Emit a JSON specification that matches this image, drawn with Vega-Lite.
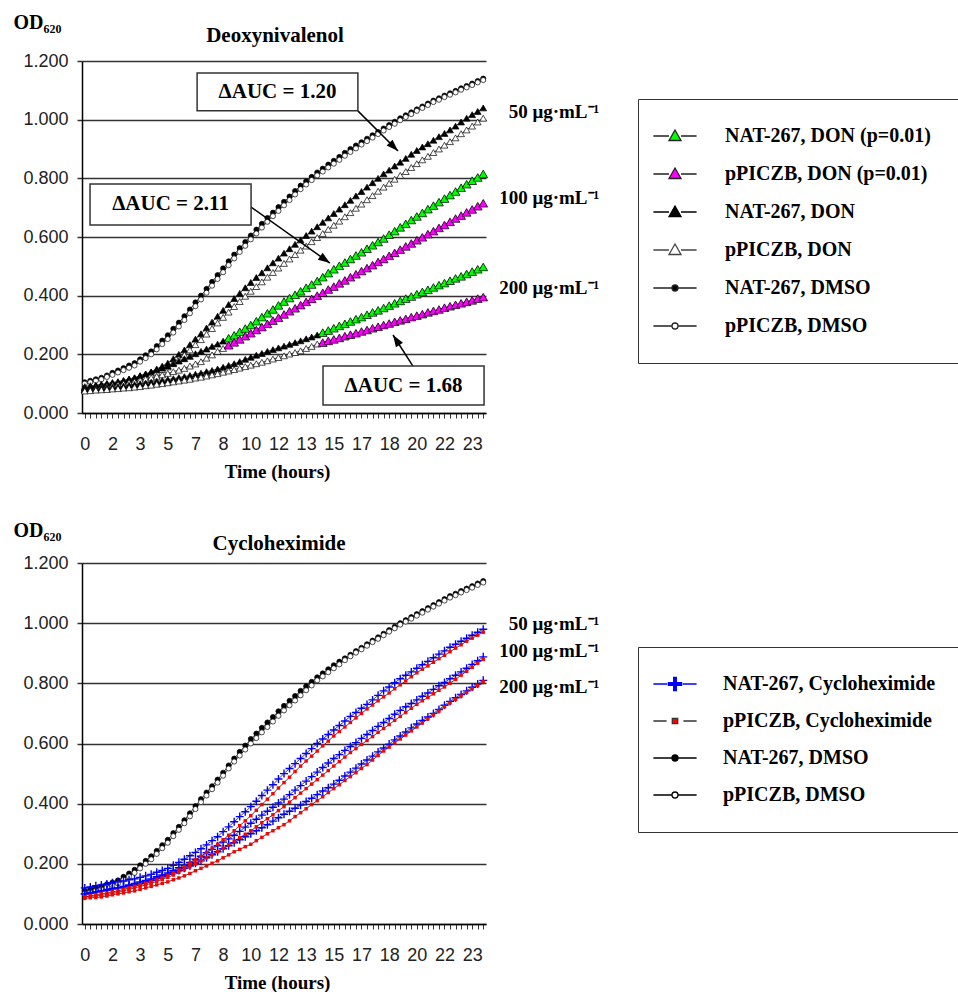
{
"$schema":"https://vega.github.io/schema/vega-lite/v6.json",
"background":"white",
"padding":{"left":13,"top":12,"right":0,"bottom":0},
"spacing":39,
"config":{"view":{"stroke":null},"font":"Liberation Sans",
"axisX":{"labelFont":"Liberation Sans","labelFontSize":18,"labelColor":"#222","labelPadding":17,"labelFlush":false,"labelOverlap":false,"tickSize":5,"tickColor":"#333","tickWidth":1,"domainColor":"#000","domainWidth":1.5,"grid":false,"titleFont":"Liberation Serif","titleFontSize":19,"titleFontWeight":"bold","titleColor":"#000","titlePadding":9},
"axisY":{"labelFont":"Liberation Sans","labelFontSize":18,"labelColor":"#222","labelPadding":9,"labelFlush":false,"tickSize":5,"tickColor":"#333","tickWidth":1.5,"domainColor":"#000","domainWidth":1.5,"grid":true,"gridColor":"#333","gridWidth":1.5,"titleFont":"Liberation Serif","titleFontSize":20,"titleFontWeight":"bold","titleColor":"#000"}},
"resolve":{"scale":{"x":"independent","y":"independent","shape":"independent","fill":"independent","stroke":"independent"}},
"datasets":{
"don":[
{"t":0,"nD":0.105,"pD":0.100,"n50":0.090,"p50":0.085,"n100":0.085,"p100":0.080,"n200":0.080,"p200":0.075},
{"t":20,"nD":0.110,"pD":0.105,"n50":0.093,"p50":0.087,"n100":0.088,"p100":0.083,"n200":0.082,"p200":0.076},
{"t":40,"nD":0.115,"pD":0.110,"n50":0.095,"p50":0.090,"n100":0.092,"p100":0.085,"n200":0.083,"p200":0.078},
{"t":60,"nD":0.120,"pD":0.115,"n50":0.098,"p50":0.092,"n100":0.095,"p100":0.088,"n200":0.085,"p200":0.079},
{"t":80,"nD":0.128,"pD":0.123,"n50":0.101,"p50":0.095,"n100":0.098,"p100":0.091,"n200":0.087,"p200":0.080},
{"t":100,"nD":0.137,"pD":0.130,"n50":0.104,"p50":0.097,"n100":0.102,"p100":0.094,"n200":0.088,"p200":0.082},
{"t":120,"nD":0.145,"pD":0.138,"n50":0.107,"p50":0.100,"n100":0.105,"p100":0.097,"n200":0.090,"p200":0.083},
{"t":140,"nD":0.153,"pD":0.146,"n50":0.111,"p50":0.104,"n100":0.110,"p100":0.100,"n200":0.092,"p200":0.085},
{"t":160,"nD":0.162,"pD":0.154,"n50":0.116,"p50":0.108,"n100":0.115,"p100":0.104,"n200":0.095,"p200":0.086},
{"t":180,"nD":0.170,"pD":0.162,"n50":0.120,"p50":0.112,"n100":0.120,"p100":0.107,"n200":0.097,"p200":0.088},
{"t":200,"nD":0.183,"pD":0.175,"n50":0.127,"p50":0.118,"n100":0.127,"p100":0.111,"n200":0.100,"p200":0.090},
{"t":220,"nD":0.197,"pD":0.187,"n50":0.133,"p50":0.124,"n100":0.133,"p100":0.116,"n200":0.102,"p200":0.093},
{"t":240,"nD":0.210,"pD":0.200,"n50":0.140,"p50":0.130,"n100":0.140,"p100":0.120,"n200":0.105,"p200":0.095},
{"t":260,"nD":0.228,"pD":0.217,"n50":0.150,"p50":0.139,"n100":0.147,"p100":0.125,"n200":0.108,"p200":0.098},
{"t":280,"nD":0.247,"pD":0.235,"n50":0.160,"p50":0.148,"n100":0.153,"p100":0.130,"n200":0.111,"p200":0.100},
{"t":300,"nD":0.265,"pD":0.252,"n50":0.170,"p50":0.157,"n100":0.160,"p100":0.135,"n200":0.114,"p200":0.103},
{"t":320,"nD":0.287,"pD":0.274,"n50":0.185,"p50":0.171,"n100":0.168,"p100":0.141,"n200":0.117,"p200":0.106},
{"t":340,"nD":0.308,"pD":0.295,"n50":0.200,"p50":0.184,"n100":0.177,"p100":0.146,"n200":0.121,"p200":0.109},
{"t":360,"nD":0.330,"pD":0.317,"n50":0.215,"p50":0.198,"n100":0.185,"p100":0.152,"n200":0.124,"p200":0.112},
{"t":380,"nD":0.353,"pD":0.340,"n50":0.233,"p50":0.215,"n100":0.193,"p100":0.160,"n200":0.128,"p200":0.115},
{"t":400,"nD":0.377,"pD":0.364,"n50":0.252,"p50":0.233,"n100":0.202,"p100":0.167,"n200":0.132,"p200":0.119},
{"t":420,"nD":0.400,"pD":0.387,"n50":0.270,"p50":0.250,"n100":0.210,"p100":0.175,"n200":0.136,"p200":0.122},
{"t":440,"nD":0.423,"pD":0.410,"n50":0.290,"p50":0.269,"n100":0.218,"p100":0.187,"n200":0.141,"p200":0.126},
{"t":460,"nD":0.447,"pD":0.434,"n50":0.310,"p50":0.288,"n100":0.227,"p100":0.198,"n200":0.145,"p200":0.130},
{"t":480,"nD":0.470,"pD":0.457,"n50":0.330,"p50":0.307,"n100":0.235,"p100":0.210,"n200":0.150,"p200":0.134},
{"t":500,"nD":0.493,"pD":0.480,"n50":0.350,"p50":0.326,"n100":0.245,"p100":0.220,"n200":0.156,"p200":0.139},
{"t":520,"nD":0.517,"pD":0.504,"n50":0.370,"p50":0.344,"n100":0.255,"p100":0.231,"n200":0.162,"p200":0.143},
{"t":540,"nD":0.540,"pD":0.527,"n50":0.390,"p50":0.363,"n100":0.265,"p100":0.241,"n200":0.168,"p200":0.148},
{"t":560,"nD":0.562,"pD":0.549,"n50":0.408,"p50":0.380,"n100":0.277,"p100":0.251,"n200":0.175,"p200":0.153},
{"t":580,"nD":0.583,"pD":0.570,"n50":0.427,"p50":0.398,"n100":0.288,"p100":0.262,"n200":0.183,"p200":0.158},
{"t":600,"nD":0.605,"pD":0.592,"n50":0.445,"p50":0.415,"n100":0.300,"p100":0.272,"n200":0.190,"p200":0.163},
{"t":620,"nD":0.625,"pD":0.612,"n50":0.462,"p50":0.431,"n100":0.313,"p100":0.283,"n200":0.197,"p200":0.168},
{"t":640,"nD":0.645,"pD":0.632,"n50":0.478,"p50":0.447,"n100":0.327,"p100":0.293,"n200":0.203,"p200":0.173},
{"t":660,"nD":0.665,"pD":0.652,"n50":0.495,"p50":0.463,"n100":0.340,"p100":0.304,"n200":0.210,"p200":0.178},
{"t":680,"nD":0.683,"pD":0.671,"n50":0.512,"p50":0.479,"n100":0.353,"p100":0.315,"n200":0.216,"p200":0.184},
{"t":700,"nD":0.702,"pD":0.689,"n50":0.528,"p50":0.494,"n100":0.367,"p100":0.325,"n200":0.222,"p200":0.189},
{"t":720,"nD":0.720,"pD":0.708,"n50":0.545,"p50":0.510,"n100":0.380,"p100":0.336,"n200":0.228,"p200":0.195},
{"t":740,"nD":0.738,"pD":0.726,"n50":0.560,"p50":0.525,"n100":0.392,"p100":0.347,"n200":0.234,"p200":0.201},
{"t":760,"nD":0.757,"pD":0.745,"n50":0.575,"p50":0.540,"n100":0.403,"p100":0.357,"n200":0.240,"p200":0.206},
{"t":780,"nD":0.775,"pD":0.763,"n50":0.590,"p50":0.555,"n100":0.415,"p100":0.368,"n200":0.246,"p200":0.212},
{"t":800,"nD":0.790,"pD":0.779,"n50":0.605,"p50":0.569,"n100":0.427,"p100":0.379,"n200":0.253,"p200":0.220},
{"t":820,"nD":0.805,"pD":0.794,"n50":0.620,"p50":0.584,"n100":0.438,"p100":0.389,"n200":0.259,"p200":0.227},
{"t":840,"nD":0.820,"pD":0.810,"n50":0.635,"p50":0.598,"n100":0.450,"p100":0.400,"n200":0.266,"p200":0.235},
{"t":860,"nD":0.833,"pD":0.823,"n50":0.650,"p50":0.612,"n100":0.463,"p100":0.410,"n200":0.274,"p200":0.240},
{"t":880,"nD":0.847,"pD":0.837,"n50":0.665,"p50":0.626,"n100":0.477,"p100":0.421,"n200":0.281,"p200":0.246},
{"t":900,"nD":0.860,"pD":0.850,"n50":0.680,"p50":0.640,"n100":0.490,"p100":0.431,"n200":0.289,"p200":0.251},
{"t":920,"nD":0.873,"pD":0.863,"n50":0.695,"p50":0.654,"n100":0.502,"p100":0.442,"n200":0.297,"p200":0.256},
{"t":940,"nD":0.887,"pD":0.877,"n50":0.710,"p50":0.669,"n100":0.513,"p100":0.452,"n200":0.304,"p200":0.262},
{"t":960,"nD":0.900,"pD":0.890,"n50":0.725,"p50":0.683,"n100":0.525,"p100":0.463,"n200":0.312,"p200":0.267},
{"t":980,"nD":0.912,"pD":0.902,"n50":0.740,"p50":0.698,"n100":0.537,"p100":0.473,"n200":0.320,"p200":0.272},
{"t":1000,"nD":0.923,"pD":0.915,"n50":0.755,"p50":0.712,"n100":0.548,"p100":0.484,"n200":0.327,"p200":0.278},
{"t":1020,"nD":0.935,"pD":0.927,"n50":0.770,"p50":0.727,"n100":0.560,"p100":0.494,"n200":0.335,"p200":0.283},
{"t":1040,"nD":0.947,"pD":0.939,"n50":0.785,"p50":0.741,"n100":0.572,"p100":0.504,"n200":0.343,"p200":0.289},
{"t":1060,"nD":0.958,"pD":0.951,"n50":0.800,"p50":0.756,"n100":0.583,"p100":0.515,"n200":0.350,"p200":0.294},
{"t":1080,"nD":0.970,"pD":0.963,"n50":0.815,"p50":0.770,"n100":0.595,"p100":0.525,"n200":0.358,"p200":0.300},
{"t":1100,"nD":0.982,"pD":0.975,"n50":0.828,"p50":0.783,"n100":0.608,"p100":0.536,"n200":0.366,"p200":0.305},
{"t":1120,"nD":0.993,"pD":0.986,"n50":0.842,"p50":0.797,"n100":0.620,"p100":0.546,"n200":0.374,"p200":0.311},
{"t":1140,"nD":1.005,"pD":0.998,"n50":0.855,"p50":0.810,"n100":0.633,"p100":0.557,"n200":0.382,"p200":0.316},
{"t":1160,"nD":1.015,"pD":1.009,"n50":0.868,"p50":0.823,"n100":0.645,"p100":0.568,"n200":0.390,"p200":0.321},
{"t":1180,"nD":1.025,"pD":1.019,"n50":0.882,"p50":0.837,"n100":0.658,"p100":0.578,"n200":0.397,"p200":0.327},
{"t":1200,"nD":1.035,"pD":1.030,"n50":0.895,"p50":0.850,"n100":0.670,"p100":0.589,"n200":0.405,"p200":0.332},
{"t":1220,"nD":1.045,"pD":1.040,"n50":0.907,"p50":0.863,"n100":0.682,"p100":0.599,"n200":0.413,"p200":0.337},
{"t":1240,"nD":1.055,"pD":1.050,"n50":0.918,"p50":0.875,"n100":0.695,"p100":0.610,"n200":0.420,"p200":0.343},
{"t":1260,"nD":1.065,"pD":1.060,"n50":0.930,"p50":0.888,"n100":0.707,"p100":0.620,"n200":0.428,"p200":0.348},
{"t":1280,"nD":1.073,"pD":1.068,"n50":0.942,"p50":0.900,"n100":0.719,"p100":0.631,"n200":0.436,"p200":0.353},
{"t":1300,"nD":1.082,"pD":1.077,"n50":0.953,"p50":0.913,"n100":0.731,"p100":0.641,"n200":0.443,"p200":0.359},
{"t":1320,"nD":1.090,"pD":1.085,"n50":0.965,"p50":0.925,"n100":0.743,"p100":0.652,"n200":0.451,"p200":0.364},
{"t":1340,"nD":1.098,"pD":1.093,"n50":0.978,"p50":0.938,"n100":0.755,"p100":0.663,"n200":0.459,"p200":0.369},
{"t":1360,"nD":1.107,"pD":1.102,"n50":0.992,"p50":0.952,"n100":0.768,"p100":0.673,"n200":0.466,"p200":0.374},
{"t":1380,"nD":1.115,"pD":1.110,"n50":1.005,"p50":0.965,"n100":0.780,"p100":0.684,"n200":0.474,"p200":0.379},
{"t":1400,"nD":1.123,"pD":1.118,"n50":1.017,"p50":0.978,"n100":0.792,"p100":0.694,"n200":0.482,"p200":0.384},
{"t":1420,"nD":1.132,"pD":1.127,"n50":1.028,"p50":0.992,"n100":0.803,"p100":0.705,"n200":0.490,"p200":0.390},
{"t":1440,"nD":1.140,"pD":1.135,"n50":1.040,"p50":1.005,"n100":0.815,"p100":0.715,"n200":0.498,"p200":0.395}
],
"chx":[
{"t":0,"nD":0.110,"pD":0.100,"n50":0.120,"p50":0.090,"n100":0.100,"p100":0.090,"n200":0.100,"p200":0.085},
{"t":20,"nD":0.115,"pD":0.105,"n50":0.123,"p50":0.093,"n100":0.103,"p100":0.092,"n200":0.103,"p200":0.087},
{"t":40,"nD":0.120,"pD":0.110,"n50":0.127,"p50":0.097,"n100":0.107,"p100":0.093,"n200":0.107,"p200":0.088},
{"t":60,"nD":0.125,"pD":0.115,"n50":0.130,"p50":0.100,"n100":0.110,"p100":0.095,"n200":0.110,"p200":0.090},
{"t":80,"nD":0.132,"pD":0.122,"n50":0.133,"p50":0.103,"n100":0.113,"p100":0.098,"n200":0.113,"p200":0.093},
{"t":100,"nD":0.138,"pD":0.128,"n50":0.137,"p50":0.107,"n100":0.117,"p100":0.102,"n200":0.117,"p200":0.097},
{"t":120,"nD":0.145,"pD":0.135,"n50":0.140,"p50":0.110,"n100":0.120,"p100":0.105,"n200":0.120,"p200":0.100},
{"t":140,"nD":0.157,"pD":0.147,"n50":0.143,"p50":0.115,"n100":0.125,"p100":0.110,"n200":0.123,"p200":0.103},
{"t":160,"nD":0.168,"pD":0.158,"n50":0.147,"p50":0.120,"n100":0.130,"p100":0.115,"n200":0.127,"p200":0.107},
{"t":180,"nD":0.180,"pD":0.170,"n50":0.150,"p50":0.125,"n100":0.135,"p100":0.120,"n200":0.130,"p200":0.110},
{"t":200,"nD":0.195,"pD":0.185,"n50":0.155,"p50":0.130,"n100":0.140,"p100":0.125,"n200":0.135,"p200":0.115},
{"t":220,"nD":0.210,"pD":0.200,"n50":0.160,"p50":0.135,"n100":0.145,"p100":0.130,"n200":0.140,"p200":0.120},
{"t":240,"nD":0.225,"pD":0.215,"n50":0.165,"p50":0.140,"n100":0.150,"p100":0.135,"n200":0.145,"p200":0.125},
{"t":260,"nD":0.243,"pD":0.233,"n50":0.172,"p50":0.147,"n100":0.157,"p100":0.142,"n200":0.152,"p200":0.130},
{"t":280,"nD":0.262,"pD":0.252,"n50":0.178,"p50":0.153,"n100":0.163,"p100":0.148,"n200":0.158,"p200":0.135},
{"t":300,"nD":0.280,"pD":0.270,"n50":0.185,"p50":0.160,"n100":0.170,"p100":0.155,"n200":0.165,"p200":0.140},
{"t":320,"nD":0.302,"pD":0.292,"n50":0.195,"p50":0.170,"n100":0.178,"p100":0.163,"n200":0.172,"p200":0.147},
{"t":340,"nD":0.323,"pD":0.313,"n50":0.205,"p50":0.180,"n100":0.187,"p100":0.172,"n200":0.178,"p200":0.153},
{"t":360,"nD":0.345,"pD":0.335,"n50":0.215,"p50":0.190,"n100":0.195,"p100":0.180,"n200":0.185,"p200":0.160},
{"t":380,"nD":0.368,"pD":0.358,"n50":0.227,"p50":0.202,"n100":0.205,"p100":0.190,"n200":0.193,"p200":0.168},
{"t":400,"nD":0.392,"pD":0.382,"n50":0.238,"p50":0.213,"n100":0.215,"p100":0.200,"n200":0.202,"p200":0.177},
{"t":420,"nD":0.415,"pD":0.405,"n50":0.250,"p50":0.225,"n100":0.225,"p100":0.210,"n200":0.210,"p200":0.185},
{"t":440,"nD":0.437,"pD":0.427,"n50":0.263,"p50":0.238,"n100":0.237,"p100":0.220,"n200":0.220,"p200":0.193},
{"t":460,"nD":0.458,"pD":0.448,"n50":0.277,"p50":0.252,"n100":0.248,"p100":0.230,"n200":0.230,"p200":0.202},
{"t":480,"nD":0.480,"pD":0.470,"n50":0.290,"p50":0.265,"n100":0.260,"p100":0.240,"n200":0.240,"p200":0.210},
{"t":500,"nD":0.503,"pD":0.493,"n50":0.307,"p50":0.280,"n100":0.272,"p100":0.252,"n200":0.250,"p200":0.220},
{"t":520,"nD":0.527,"pD":0.517,"n50":0.323,"p50":0.295,"n100":0.283,"p100":0.263,"n200":0.260,"p200":0.230},
{"t":540,"nD":0.550,"pD":0.540,"n50":0.340,"p50":0.310,"n100":0.295,"p100":0.275,"n200":0.270,"p200":0.240},
{"t":560,"nD":0.572,"pD":0.560,"n50":0.357,"p50":0.327,"n100":0.308,"p100":0.287,"n200":0.280,"p200":0.248},
{"t":580,"nD":0.593,"pD":0.580,"n50":0.373,"p50":0.343,"n100":0.322,"p100":0.298,"n200":0.290,"p200":0.257},
{"t":600,"nD":0.615,"pD":0.600,"n50":0.390,"p50":0.360,"n100":0.335,"p100":0.310,"n200":0.300,"p200":0.265},
{"t":620,"nD":0.633,"pD":0.618,"n50":0.408,"p50":0.378,"n100":0.348,"p100":0.323,"n200":0.310,"p200":0.277},
{"t":640,"nD":0.652,"pD":0.637,"n50":0.427,"p50":0.397,"n100":0.362,"p100":0.337,"n200":0.320,"p200":0.288},
{"t":660,"nD":0.670,"pD":0.655,"n50":0.445,"p50":0.415,"n100":0.375,"p100":0.350,"n200":0.330,"p200":0.300},
{"t":680,"nD":0.688,"pD":0.673,"n50":0.463,"p50":0.433,"n100":0.388,"p100":0.363,"n200":0.342,"p200":0.310},
{"t":700,"nD":0.707,"pD":0.692,"n50":0.482,"p50":0.452,"n100":0.402,"p100":0.377,"n200":0.353,"p200":0.320},
{"t":720,"nD":0.725,"pD":0.710,"n50":0.500,"p50":0.470,"n100":0.415,"p100":0.390,"n200":0.365,"p200":0.330},
{"t":740,"nD":0.742,"pD":0.727,"n50":0.517,"p50":0.488,"n100":0.430,"p100":0.405,"n200":0.375,"p200":0.343},
{"t":760,"nD":0.758,"pD":0.743,"n50":0.533,"p50":0.507,"n100":0.445,"p100":0.420,"n200":0.385,"p200":0.357},
{"t":780,"nD":0.775,"pD":0.760,"n50":0.550,"p50":0.525,"n100":0.460,"p100":0.435,"n200":0.395,"p200":0.370},
{"t":800,"nD":0.790,"pD":0.777,"n50":0.567,"p50":0.542,"n100":0.475,"p100":0.450,"n200":0.407,"p200":0.383},
{"t":820,"nD":0.805,"pD":0.793,"n50":0.583,"p50":0.558,"n100":0.490,"p100":0.465,"n200":0.418,"p200":0.397},
{"t":840,"nD":0.820,"pD":0.810,"n50":0.600,"p50":0.575,"n100":0.505,"p100":0.480,"n200":0.430,"p200":0.410},
{"t":860,"nD":0.833,"pD":0.823,"n50":0.615,"p50":0.592,"n100":0.520,"p100":0.495,"n200":0.442,"p200":0.423},
{"t":880,"nD":0.847,"pD":0.837,"n50":0.630,"p50":0.608,"n100":0.535,"p100":0.510,"n200":0.453,"p200":0.437},
{"t":900,"nD":0.860,"pD":0.850,"n50":0.645,"p50":0.625,"n100":0.550,"p100":0.525,"n200":0.465,"p200":0.450},
{"t":920,"nD":0.872,"pD":0.863,"n50":0.660,"p50":0.640,"n100":0.563,"p100":0.540,"n200":0.478,"p200":0.463},
{"t":940,"nD":0.883,"pD":0.877,"n50":0.675,"p50":0.655,"n100":0.577,"p100":0.555,"n200":0.492,"p200":0.477},
{"t":960,"nD":0.895,"pD":0.890,"n50":0.690,"p50":0.670,"n100":0.590,"p100":0.570,"n200":0.505,"p200":0.490},
{"t":980,"nD":0.907,"pD":0.902,"n50":0.703,"p50":0.685,"n100":0.603,"p100":0.583,"n200":0.518,"p200":0.503},
{"t":1000,"nD":0.918,"pD":0.913,"n50":0.717,"p50":0.700,"n100":0.617,"p100":0.597,"n200":0.532,"p200":0.517},
{"t":1020,"nD":0.930,"pD":0.925,"n50":0.730,"p50":0.715,"n100":0.630,"p100":0.610,"n200":0.545,"p200":0.530},
{"t":1040,"nD":0.942,"pD":0.937,"n50":0.745,"p50":0.728,"n100":0.643,"p100":0.623,"n200":0.558,"p200":0.545},
{"t":1060,"nD":0.953,"pD":0.948,"n50":0.760,"p50":0.742,"n100":0.657,"p100":0.637,"n200":0.572,"p200":0.560},
{"t":1080,"nD":0.965,"pD":0.960,"n50":0.775,"p50":0.755,"n100":0.670,"p100":0.650,"n200":0.585,"p200":0.575},
{"t":1100,"nD":0.977,"pD":0.972,"n50":0.788,"p50":0.768,"n100":0.683,"p100":0.663,"n200":0.598,"p200":0.588},
{"t":1120,"nD":0.988,"pD":0.983,"n50":0.802,"p50":0.782,"n100":0.697,"p100":0.677,"n200":0.612,"p200":0.602},
{"t":1140,"nD":1.000,"pD":0.995,"n50":0.815,"p50":0.795,"n100":0.710,"p100":0.690,"n200":0.625,"p200":0.615},
{"t":1160,"nD":1.010,"pD":1.005,"n50":0.827,"p50":0.808,"n100":0.722,"p100":0.703,"n200":0.638,"p200":0.628},
{"t":1180,"nD":1.020,"pD":1.015,"n50":0.838,"p50":0.822,"n100":0.733,"p100":0.717,"n200":0.652,"p200":0.642},
{"t":1200,"nD":1.030,"pD":1.025,"n50":0.850,"p50":0.835,"n100":0.745,"p100":0.730,"n200":0.665,"p200":0.655},
{"t":1220,"nD":1.040,"pD":1.035,"n50":0.862,"p50":0.847,"n100":0.757,"p100":0.742,"n200":0.677,"p200":0.668},
{"t":1240,"nD":1.050,"pD":1.045,"n50":0.873,"p50":0.858,"n100":0.768,"p100":0.753,"n200":0.688,"p200":0.682},
{"t":1260,"nD":1.060,"pD":1.055,"n50":0.885,"p50":0.870,"n100":0.780,"p100":0.765,"n200":0.700,"p200":0.695},
{"t":1280,"nD":1.070,"pD":1.065,"n50":0.897,"p50":0.882,"n100":0.792,"p100":0.777,"n200":0.713,"p200":0.708},
{"t":1300,"nD":1.080,"pD":1.075,"n50":0.908,"p50":0.893,"n100":0.803,"p100":0.788,"n200":0.727,"p200":0.722},
{"t":1320,"nD":1.090,"pD":1.085,"n50":0.920,"p50":0.905,"n100":0.815,"p100":0.800,"n200":0.740,"p200":0.735},
{"t":1340,"nD":1.098,"pD":1.093,"n50":0.930,"p50":0.917,"n100":0.827,"p100":0.813,"n200":0.752,"p200":0.747},
{"t":1360,"nD":1.107,"pD":1.102,"n50":0.940,"p50":0.928,"n100":0.838,"p100":0.827,"n200":0.763,"p200":0.758},
{"t":1380,"nD":1.115,"pD":1.110,"n50":0.950,"p50":0.940,"n100":0.850,"p100":0.840,"n200":0.775,"p200":0.770},
{"t":1400,"nD":1.123,"pD":1.118,"n50":0.960,"p50":0.950,"n100":0.863,"p100":0.853,"n200":0.787,"p200":0.782},
{"t":1420,"nD":1.132,"pD":1.127,"n50":0.970,"p50":0.960,"n100":0.875,"p100":0.867,"n200":0.798,"p200":0.793},
{"t":1440,"nD":1.140,"pD":1.135,"n50":0.980,"p50":0.970,"n100":0.888,"p100":0.880,"n200":0.810,"p200":0.805}
],
"annotBox":[
{"label":"ΔAUC = 1.20","t":406,"t2":987,"od":1.03,"od2":1.159},
{"label":"ΔAUC = 2.11","t":19,"t2":601,"od":0.641,"od2":0.781},
{"label":"ΔAUC = 1.68","t":861,"t2":1443,"od":0.027,"od2":0.160}
],
"annotArrow":[
{"t":987,"od":1.03,"t2":1132,"od2":0.893},
{"t":601,"od":0.702,"t2":886,"od2":0.511},
{"t":1186,"od":0.160,"t2":1114,"od2":0.266}
],
"concTop":[
{"t":1440,"od":1.026,"label":"50 μg·mL⁻¹"},
{"t":1440,"od":0.733,"label":"100 μg·mL⁻¹"},
{"t":1440,"od":0.426,"label":"200 μg·mL⁻¹"}
],
"concBot":[
{"t":1440,"od":0.997,"label":"50 μg·mL⁻¹"},
{"t":1440,"od":0.907,"label":"100 μg·mL⁻¹"},
{"t":1440,"od":0.788,"label":"200 μg·mL⁻¹"}
],
"legTop":[
{"entry":"NAT-267, DON (p=0.01)"},{"entry":"pPICZB, DON (p=0.01)"},{"entry":"NAT-267, DON"},{"entry":"pPICZB, DON"},{"entry":"NAT-267, DMSO"},{"entry":"pPICZB, DMSO"}
],
"legBot":[
{"entry":"NAT-267, Cycloheximide"},{"entry":"pPICZB, Cycloheximide"},{"entry":"NAT-267, DMSO"},{"entry":"pPICZB, DMSO"}
]
},
"vconcat":[
{
"width":404,"height":352,
"title":{"text":"Deoxynivalenol","frame":"group","anchor":"middle","dx":-9,"offset":-51,"baseline":"alphabetic","font":"Liberation Serif","fontSize":21,"fontWeight":"bold","color":"#000"},
"resolve":{"scale":{"shape":"independent","fill":"independent","stroke":"independent"}},
"encoding":{
"x":{"field":"t","type":"quantitative","scale":{"domain":[-10,1450],"nice":false,"zero":false},
"axis":{"values":[0,20,40,60,80,100,120,140,160,180,200,220,240,260,280,300,320,340,360,380,400,420,440,460,480,500,520,540,560,580,600,620,640,660,680,700,720,740,760,780,800,820,840,860,880,900,920,940,960,980,1000,1020,1040,1060,1080,1100,1120,1140,1160,1180,1200,1220,1240,1260,1280,1300,1320,1340,1360,1380,1400,1420,1440],
"labelExpr":"datum.value % 100 === 0 ? format(datum.value/60, '.0f') : ''","labelOverlap":false,"title":"Time (hours)","titleX":195}},
"y":{"field":"od","type":"quantitative","scale":{"domain":[0,1.2],"nice":false,"zero":false},
"axis":{"values":[0,0.2,0.4,0.6,0.8,1,1.2],"format":".3f","title":"OD₆₂₀","titleAngle":0,"titleX":-69,"titleY":-33,"titleAlign":"left","titleBaseline":"alphabetic"}}},
"layer":[
{"data":{"name":"don"},
"transform":[{"fold":["nD","pD","n50","p50","n100","p100","n200","p200"],"as":["s","od"]}],
"mark":{"type":"line","color":"#333","strokeWidth":0.9},
"encoding":{"detail":{"field":"s","type":"nominal"}}},
{"data":{"name":"don"},
"transform":[{"fold":["nD","pD","n50","p50","n100","p100","n200","p200"],"as":["s","od"]}],
"mark":{"type":"point","filled":true,"stroke":"#000","strokeWidth":0.7,"opacity":1},
"encoding":{
"shape":{"field":"s","type":"nominal","scale":{"domain":["nD","pD","n50","p50","n100","p100","n200","p200"],"range":["circle","circle","triangle-up","triangle-up","triangle-up","triangle-up","triangle-up","triangle-up"]},"legend":null},
"fill":{"field":"s","type":"nominal","scale":{"domain":["nD","pD","n50","p50","n100","p100","n200","p200"],"range":["#000","#fff","#000","#fff","#000","#fff","#000","#fff"]},"legend":null},
"size":{"condition":{"test":"datum.s=='nD'||datum.s=='pD'","value":26},"value":46}}},
{"data":{"name":"don"},
"transform":[{"fold":["nD","pD","n50","p50","n100","p100","n200","p200"],"as":["s","od"]},
{"filter":"((datum.s=='n100'||datum.s=='p100')&&datum.t>=520)||((datum.s=='n200'||datum.s=='p200')&&datum.t>=860)"}],
"mark":{"type":"point","shape":"triangle-up","filled":true,"stroke":"#000","strokeWidth":0.7,"size":78,"opacity":1},
"encoding":{
"fill":{"condition":{"test":"datum.s=='n100'||datum.s=='n200'","value":"#00ff00"},"value":"#ff00ff"}}},
{"data":{"name":"annotArrow"},
"mark":{"type":"rule","color":"#000","strokeWidth":1.5},
"encoding":{"x2":{"field":"t2"},"y2":{"field":"od2"}}},
{"data":{"name":"annotArrow"},
"transform":[
{"calculate":"(datum.t2-datum.t)*0.27671","as":"dxp"},
{"calculate":"(datum.od2-datum.od)*293.33","as":"dyp"},
{"calculate":"sqrt(datum.dxp*datum.dxp+datum.dyp*datum.dyp)","as":"len"},
{"calculate":"atan2(datum.dxp,datum.dyp)*180/PI","as":"ang"},
{"calculate":"datum.t2-(datum.t2-datum.t)*7/datum.len","as":"t"},
{"calculate":"datum.od2-(datum.od2-datum.od)*7/datum.len","as":"od"}],
"mark":{"type":"point","shape":"M0,-1L0.6,0.7L-0.6,0.7Z","filled":true,"color":"#000","size":196,"opacity":1},
"encoding":{"angle":{"field":"ang","type":"quantitative","scale":null}}},
{"data":{"name":"annotBox"},
"mark":{"type":"rect","fill":"#fff","stroke":"#333","strokeWidth":1.5},
"encoding":{"x2":{"field":"t2"},"y2":{"field":"od2"}}},
{"data":{"name":"annotBox"},
"transform":[{"calculate":"(datum.t+datum.t2)/2","as":"t"},{"calculate":"(datum.od+datum.od2)/2","as":"od"}],
"mark":{"type":"text","font":"Liberation Serif","fontSize":21,"fontWeight":"bold","color":"#000","align":"center","baseline":"middle"},
"encoding":{"text":{"field":"label"}}},
{"data":{"name":"concTop"},
"mark":{"type":"text","font":"Liberation Serif","fontSize":19,"fontWeight":"bold","color":"#000","align":"right","baseline":"middle","dx":116},
"encoding":{"text":{"field":"label"}}},
{"data":{"name":"legTop"},
"mark":{"type":"point","filled":true,"opacity":0},
"encoding":{
"shape":{"field":"entry","type":"nominal","scale":{"domain":["NAT-267, DON (p=0.01)","pPICZB, DON (p=0.01)","NAT-267, DON","pPICZB, DON","NAT-267, DMSO","pPICZB, DMSO"],
"range":["M-3.6,0H-1M1,0H3.6M0,-1L1,0.75L-1,0.75Z","M-3.6,0H-1M1,0H3.6M0,-1L1,0.75L-1,0.75Z","M-3.6,0H-1M1,0H3.6M0,-1L1,0.75L-1,0.75Z","M-3.6,0H-1M1,0H3.6M0,-1L1,0.75L-1,0.75Z","M-3.6,0H-0.5M0.5,0H3.6M0.5,0A0.5,0.5,0,1,1,-0.5,0A0.5,0.5,0,1,1,0.5,0Z","M-3.6,0H-0.5M0.5,0H3.6M0.5,0A0.5,0.5,0,1,1,-0.5,0A0.5,0.5,0,1,1,0.5,0Z"]},
"legend":{"orient":"none","legendX":556,"legendY":38,"direction":"vertical","title":null,"padding":27,"strokeColor":"#333","fillColor":"#fff","labelFont":"Liberation Serif","labelFontSize":20,"labelFontWeight":"bold","labelColor":"#000","labelOffset":40,"labelLimit":400,"rowPadding":18,"symbolSize":144,"symbolStrokeWidth":1.3,"symbolOpacity":1}},
"fill":{"field":"entry","type":"nominal","scale":{"domain":["NAT-267, DON (p=0.01)","pPICZB, DON (p=0.01)","NAT-267, DON","pPICZB, DON","NAT-267, DMSO","pPICZB, DMSO"],"range":["#00ff00","#ff00ff","#000000","#ffffff","#000000","#ffffff"]}},
"stroke":{"field":"entry","type":"nominal","scale":{"domain":["NAT-267, DON (p=0.01)","pPICZB, DON (p=0.01)","NAT-267, DON","pPICZB, DON","NAT-267, DMSO","pPICZB, DMSO"],"range":["#222222","#222222","#000000","#444444","#222222","#222222"]}}}}
]
},
{
"width":404,"height":361,
"title":{"text":"Cycloheximide","frame":"group","anchor":"middle","dx":-5,"offset":-50.5,"baseline":"alphabetic","font":"Liberation Serif","fontSize":21,"fontWeight":"bold","color":"#000"},
"resolve":{"scale":{"shape":"independent","fill":"independent","stroke":"independent"}},
"encoding":{
"x":{"field":"t","type":"quantitative","scale":{"domain":[-10,1450],"nice":false,"zero":false},
"axis":{"values":[0,20,40,60,80,100,120,140,160,180,200,220,240,260,280,300,320,340,360,380,400,420,440,460,480,500,520,540,560,580,600,620,640,660,680,700,720,740,760,780,800,820,840,860,880,900,920,940,960,980,1000,1020,1040,1060,1080,1100,1120,1140,1160,1180,1200,1220,1240,1260,1280,1300,1320,1340,1360,1380,1400,1420,1440],
"labelExpr":"datum.value % 100 === 0 ? format(datum.value/60, '.0f') : ''","labelOverlap":false,"title":"Time (hours)","titleX":195}},
"y":{"field":"od","type":"quantitative","scale":{"domain":[0,1.2],"nice":false,"zero":false},
"axis":{"values":[0,0.2,0.4,0.6,0.8,1,1.2],"format":".3f","title":"OD₆₂₀","titleAngle":0,"titleX":-69,"titleY":-27,"titleAlign":"left","titleBaseline":"alphabetic"}}},
"layer":[
{"data":{"name":"chx"},
"transform":[{"fold":["nD","pD","n50","p50","n100","p100","n200","p200"],"as":["s","od"]}],
"mark":{"type":"line","color":"#333","strokeWidth":0.9},
"encoding":{"detail":{"field":"s","type":"nominal"}}},
{"data":{"name":"chx"},
"transform":[{"fold":["nD","pD"],"as":["s","od"]}],
"mark":{"type":"point","shape":"circle","filled":true,"stroke":"#000","strokeWidth":0.7,"size":26,"opacity":1},
"encoding":{"fill":{"condition":{"test":"datum.s=='nD'","value":"#000"},"value":"#fff"}}},
{"data":{"name":"chx"},
"transform":[{"fold":["n50","n100","n200"],"as":["s","od"]}],
"mark":{"type":"point","shape":"M-1,0H1M0,-1V1","filled":false,"color":"#0000ff","strokeWidth":1.4,"size":64,"opacity":1},
"encoding":{"detail":{"field":"s","type":"nominal"}}},
{"data":{"name":"chx"},
"transform":[{"fold":["p50","p100","p200"],"as":["s","od"]}],
"mark":{"type":"point","shape":"square","filled":true,"color":"#ff0000","size":12,"opacity":1},
"encoding":{"detail":{"field":"s","type":"nominal"}}},
{"data":{"name":"concBot"},
"mark":{"type":"text","font":"Liberation Serif","fontSize":19,"fontWeight":"bold","color":"#000","align":"right","baseline":"middle","dx":116},
"encoding":{"text":{"field":"label"}}},
{"data":{"name":"legBot"},
"mark":{"type":"point","filled":true,"opacity":0},
"encoding":{
"shape":{"field":"entry","type":"nominal","scale":{"domain":["NAT-267, Cycloheximide","pPICZB, Cycloheximide","NAT-267, DMSO","pPICZB, DMSO"],
"range":["M-3.6,0H-1.3M1.3,0H3.6M-0.22,-1.1H0.22V-0.22H1.1V0.22H0.22V1.1H-0.22V0.22H-1.1V-0.22H-0.22Z","M-3.6,0H-1.4M1.4,0H3.6M-0.45,-0.45H0.45V0.45H-0.45Z","M-3.6,0H-0.5M0.5,0H3.6M0.5,0A0.5,0.5,0,1,1,-0.5,0A0.5,0.5,0,1,1,0.5,0Z","M-3.6,0H-0.5M0.5,0H3.6M0.5,0A0.5,0.5,0,1,1,-0.5,0A0.5,0.5,0,1,1,0.5,0Z"]},
"legend":{"orient":"none","legendX":556,"legendY":84,"direction":"vertical","title":null,"padding":27,"strokeColor":"#333","fillColor":"#fff","labelFont":"Liberation Serif","labelFontSize":20,"labelFontWeight":"bold","labelColor":"#000","labelOffset":38,"labelLimit":400,"rowPadding":17,"symbolSize":144,"symbolStrokeWidth":1.3,"symbolOpacity":1}},
"fill":{"field":"entry","type":"nominal","scale":{"domain":["NAT-267, Cycloheximide","pPICZB, Cycloheximide","NAT-267, DMSO","pPICZB, DMSO"],"range":["#0000ff","#ff0000","#000000","#ffffff"]}},
"stroke":{"field":"entry","type":"nominal","scale":{"domain":["NAT-267, Cycloheximide","pPICZB, Cycloheximide","NAT-267, DMSO","pPICZB, DMSO"],"range":["#0000ff","#333333","#000000","#000000"]}}}}
]
}
]
}
